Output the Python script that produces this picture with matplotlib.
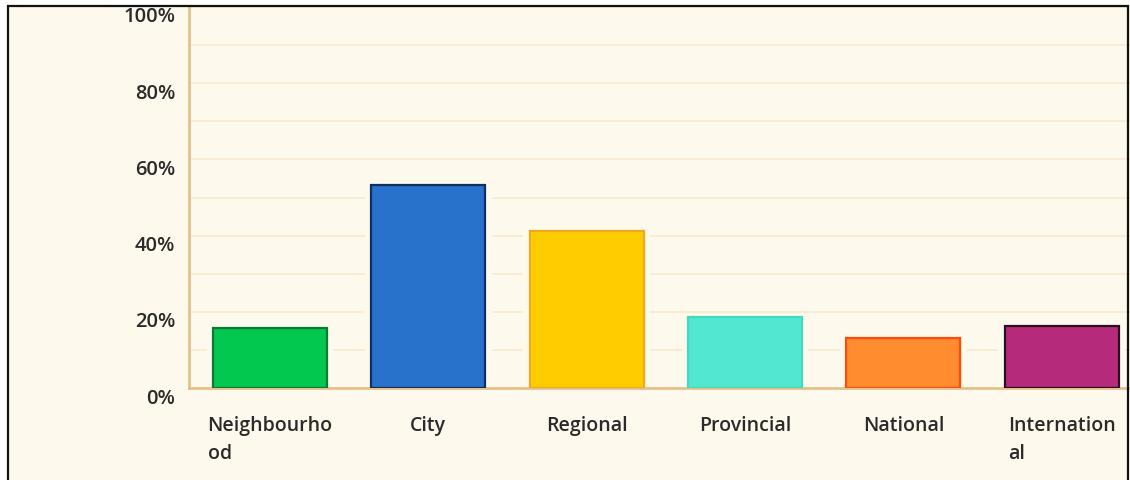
import matplotlib.pyplot as plt
import matplotlib.transforms as mtransforms
from matplotlib.patches import Rectangle
from matplotlib.ticker import MultipleLocator, FuncFormatter

# Share of respondents per scale of activity
categories = ["Neighbourho\nod", "City", "Regional", "Provincial", "National", "Internation\nal"]
shares = [15.7, 53.3, 41.2, 18.6, 13.1, 16.3]
fill_colors = ["#02c84f", "#2872cc", "#ffcc00", "#52e8cf", "#ff8c2e", "#b52a7a"]
edge_colors = ["#0b7a32", "#0f2f63", "#f2a81c", "#45d8c0", "#ff4a10", "#2a0d24"]

background = "#fdf9ec"
grid_color = "#f9ead2"
axis_color = "#e4c28c"
text_color = "#2a2a2a"

plt.rcParams["font.family"] = ["Open Sans", "DejaVu Sans"]

fig = plt.figure(figsize=(11.3, 4.8), dpi=100, facecolor="white")

# Cream panel with a black frame round it
fig.patches.append(Rectangle((8 / 1130, -0.05), 1120 / 1130, 1.05 - 6 / 480,
                             transform=fig.transFigure, facecolor=background,
                             edgecolor="none", zorder=-10))
fig.patches.append(Rectangle((8 / 1130, -0.05), 1120 / 1130, 1.05 - 6 / 480,
                             transform=fig.transFigure, fill=False,
                             edgecolor="#111111", linewidth=1.6, zorder=10))

ax = fig.add_axes([189 / 1130, 1 - 388 / 480, 950 / 1130, 381 / 480])
ax.set_facecolor(background)

x = list(range(len(categories)))
# a background-coloured halo keeps the grid lines off the bars
ax.bar(x, [v + 0.6 for v in shares], width=0.8, color=background, edgecolor="none", zorder=1.5)
ax.bar(x, shares, width=0.72, color=fill_colors, edgecolor=edge_colors, linewidth=1.6, zorder=2)

ax.set_xlim(-0.512, len(categories) - 0.512)
ax.set_ylim(0, 100)
ax.yaxis.set_major_locator(MultipleLocator(20))
ax.yaxis.set_minor_locator(MultipleLocator(10))
ax.yaxis.set_major_formatter(FuncFormatter(lambda v, _: f"{v:.0f}%"))
ax.grid(axis="y", which="both", color=grid_color, linewidth=1.3)
ax.set_axisbelow(True)

ax.set_xticks(x)
ax.set_xticklabels(categories, multialignment="left", linespacing=1.55)
ax.tick_params(axis="x", length=0, pad=20, labelsize=14, labelcolor=text_color)
ax.tick_params(axis="y", which="both", length=0, pad=10, labelsize=14.5, labelcolor=text_color)
for label in ax.get_xticklabels() + ax.get_yticklabels():
    label.set_fontweight("semibold")

offset = mtransforms.ScaledTranslation(0, -8 / 100, fig.dpi_scale_trans)
for label in ax.get_yticklabels():
    label.set_transform(label.get_transform() + offset)

for side in ["top", "right"]:
    ax.spines[side].set_visible(False)
for side in ["left", "bottom"]:
    ax.spines[side].set_color(axis_color)
    ax.spines[side].set_linewidth(2)
ax.spines["bottom"].set_zorder(1.8)

fig.savefig("out.png", dpi=100, facecolor="white")
